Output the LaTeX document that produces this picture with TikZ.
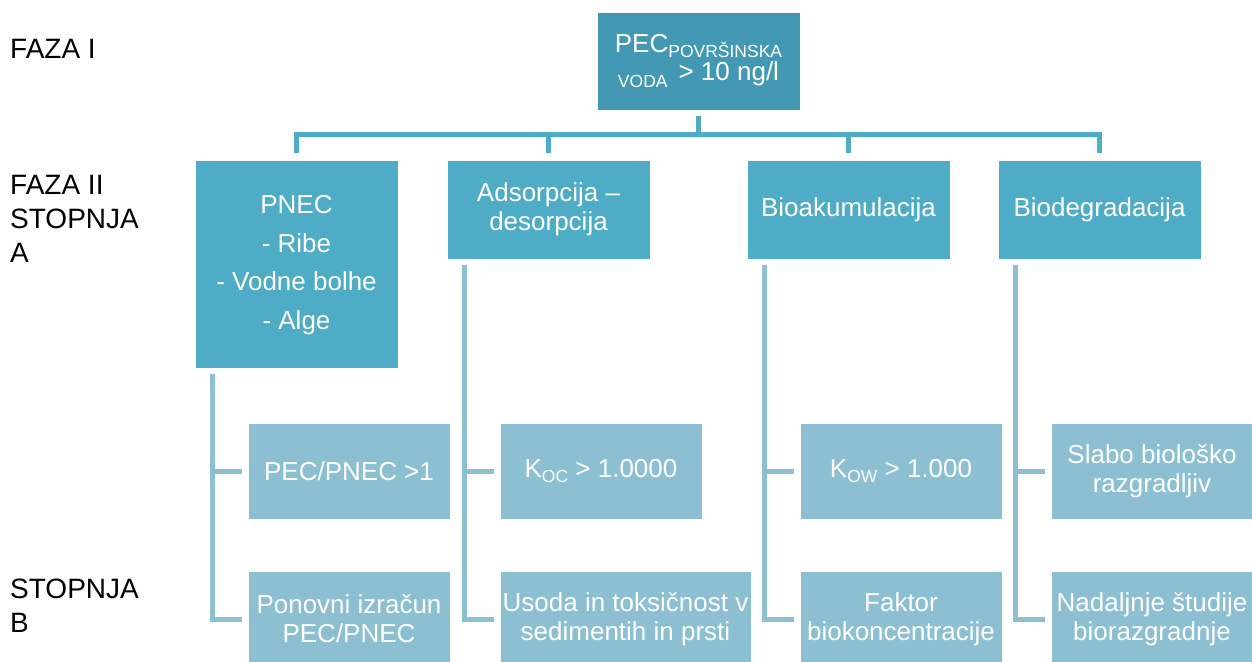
\documentclass[tikz,border=0pt]{standalone}
\usepackage{fontspec}
\setmainfont{Liberation Sans}
\definecolor{darkteal}{HTML}{4399B4}
\definecolor{midteal}{HTML}{4FACC6}
\definecolor{paleteal}{HTML}{8CBFD2}
\newcommand{\lowtxt}[2]{\raisebox{-#1}{\fontsize{17.5}{18}\selectfont #2}}
\begin{document}
\begin{tikzpicture}[x=1pt,y=-1pt,
    cell/.style={draw=white, line width=0.8pt, inner sep=0pt, align=center, text=white, font=\fontsize{26}{29}\selectfont},
    topbox/.style={cell, fill=darkteal, minimum width=203pt, minimum height=98pt, font=\fontsize{26}{28}\selectfont},
    mainbox/.style={cell, fill=midteal, minimum width=203pt, minimum height=99pt},
    subbox/.style={cell, fill=paleteal, minimum width=202pt, minimum height=96pt},
    topline/.style={midteal, line width=5pt},
    subline/.style={paleteal, line width=5pt},
    phase/.style={inner sep=0pt, anchor=north west, align=left, font=\fontsize{28}{34}\selectfont}]

    \useasboundingbox (0,0) rectangle (1252,661);

    % faze
    \node[phase] (faza1) at (10,39) {FAZA I};
    \node[phase] (faza2) at (10,175) {FAZA II\\STOPNJA\\A};
    \node[phase] (stopb) at (10,579) {STOPNJA\\B};

    % faza I
    \node[topbox] (pec) at (698.5,61) {PEC\lowtxt{5pt}{POVRŠINSKA}\\\lowtxt{7pt}{VODA}\hspace{11pt}> 10 ng/l};

    % stopnja A
    \node[mainbox, minimum height=208pt, font=\fontsize{26}{38.5}\selectfont, text depth=3pt] (pnec) at (296.5,264) {PNEC\\- Ribe\\- Vodne bolhe\\- Alge};
    \node[mainbox] (adsorp) at (548.5,209.5) {Adsorpcija –\\desorpcija};
    \node[mainbox] (bioak) at (848.5,209.5) {Bioakumulacija};
    \node[mainbox] (biodeg) at (1099.5,209.5) {Biodegradacija};

    % stopnja B
    \node[subbox] (pecpnec) at (349,471) {PEC/PNEC >1};
    \node[subbox] (ponovni) at (349,619) {Ponovni izračun\\PEC/PNEC};
    \node[subbox] (koc) at (601,471) {K\lowtxt{5pt}{OC} > 1.0000};
    \node[subbox, minimum width=251pt] (usoda) at (625.5,619) {Usoda in toksičnost v\\sedimentih in prsti};
    \node[subbox] (kow) at (901,471) {K\lowtxt{5pt}{OW} > 1.000};
    \node[subbox] (faktor) at (901,619) {Faktor\\biokoncentracije};
    \node[subbox] (slabo) at (1152,471) {Slabo biološko\\razgradljiv};
    \node[subbox] (nadalj) at (1152,619) {Nadaljnje študije\\biorazgradnje};

    % povezave
    \coordinate (bus) at ([yshift=-24pt]pec.south);
    \draw[topline] ([yshift=-6pt]pec.south) -- (bus);
    \draw[topline] ([yshift=7pt]pnec.north) |- (bus) -| ([yshift=7pt]biodeg.north);
    \foreach \n in {adsorp,bioak}
        \draw[topline] (bus -| \n.north) -- ([yshift=7pt]\n.north);

    \foreach \p/\a/\b in {pnec/pecpnec/ponovni, adsorp/koc/usoda, bioak/kow/faktor, biodeg/slabo/nadalj}{
        \draw[subline] ([xshift=18pt,yshift=-6pt]\p.south west) |- ([xshift=-6pt]\b.west);
        \draw[subline] ([xshift=-6pt]\a.west) -- ++(-29,0);
    }
\end{tikzpicture}
\end{document}
